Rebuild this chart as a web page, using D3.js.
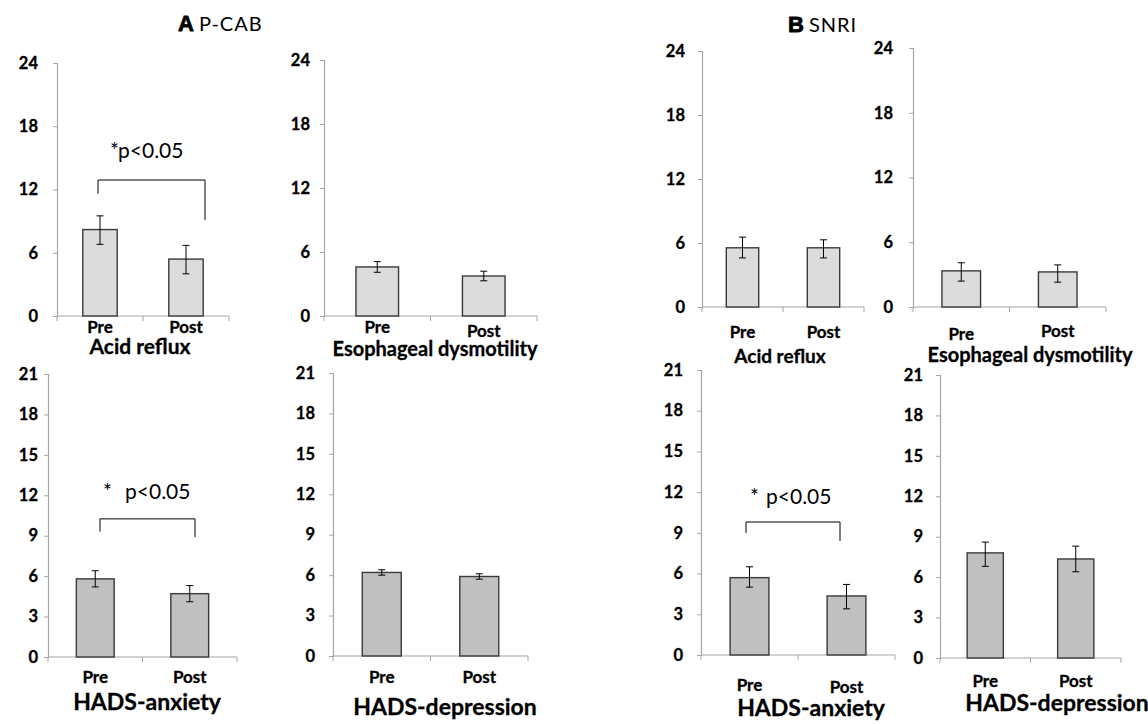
<!DOCTYPE html>
<html>
<head>
<meta charset="utf-8">
<script src="https://cdn.jsdelivr.net/npm/d3@7"></script>
<style>
  body { margin: 0; background: #fff; }
  text { font-family: Lato, "Open Sans", sans-serif; fill: #000; }
  .bold { font-weight: bold; stroke: #000; stroke-width: 0.3px; }
</style>
</head>
<body>
<div class="fig"></div>
<script>
// categories
const groups = ["Pre", "Post"];
const topTicks = [0, 6, 12, 18, 24];
const hadsTicks = [0, 3, 6, 9, 12, 15, 18, 21];

// P-CAB values (mean, upper / lower error end)
const pcabRefluxMean = [8.2, 5.4];
const pcabRefluxHi = [9.5, 6.7];
const pcabRefluxLo = [6.8, 4.0];
const pcabDysMean = [4.6, 3.75];
const pcabDysHi = [5.1, 4.2];
const pcabDysLo = [4.1, 3.3];
const pcabAnxMean = [5.8, 4.7];
const pcabAnxHi = [6.4, 5.3];
const pcabAnxLo = [5.2, 4.1];
const pcabDepMean = [6.2, 5.9];
const pcabDepHi = [6.4, 6.1];
const pcabDepLo = [6.0, 5.7];

// SNRI values
const snriRefluxMean = [5.55, 5.55];
const snriRefluxHi = [6.55, 6.3];
const snriRefluxLo = [4.6, 4.6];
const snriDysMean = [3.35, 3.25];
const snriDysHi = [4.1, 3.9];
const snriDysLo = [2.4, 2.3];
const snriAnxMean = [5.7, 4.35];
const snriAnxHi = [6.5, 5.2];
const snriAnxLo = [5.0, 3.4];
const snriDepMean = [7.8, 7.35];
const snriDepHi = [8.6, 8.3];
const snriDepLo = [6.8, 6.4];

// significance brackets: [bar level, left leg end, right leg end]
const pcabRefluxSig = [12.9, 11.6, 9.1];
const pcabAnxSig = [10.25, 9.3, 8.9];
const snriAnxSig = [9.8, 9.0, 8.4];

const W = 1148, H = 724;
const svg = d3.select(".fig").append("svg").attr("width", W).attr("height", H);

// panel layout (pixels)
const panels = [
  { x0: 57, x1: 229, y0: 63, y1: 316, max: 24, ticks: topTicks, fill: "#dbdcdb",
    mean: pcabRefluxMean, hi: pcabRefluxHi, lo: pcabRefluxLo, pad: 15,
    lab: [17, 17], name: "Acid reflux", nx: 140, ny: 354, nsize: 21,
    sig: pcabRefluxSig, sigX: [98, 205], sigText: ["*", "p<0.05"], sigDx: [110, 118], sigY: 158 },
  { x0: 324, x1: 537, y0: 60, y1: 316, max: 24, ticks: topTicks, fill: "#dbdcdb",
    mean: pcabDysMean, hi: pcabDysHi, lo: pcabDysLo, pad: 10,
    lab: [17, 21], name: "Esophageal dysmotility", nx: 435, ny: 356, nsize: 20 },
  { x0: 702, x1: 864, y0: 51, y1: 307, max: 24, ticks: topTicks, fill: "#dbdcdb",
    mean: snriRefluxMean, hi: snriRefluxHi, lo: snriRefluxLo, pad: 13,
    lab: [31, 31], name: "Acid reflux", nx: 780, ny: 363, nsize: 19 },
  { x0: 913, x1: 1106, y0: 48, y1: 307, max: 24, ticks: topTicks, fill: "#dbdcdb",
    mean: snriDysMean, hi: snriDysHi, lo: snriDysLo, pad: 16,
    lab: [33, 30], name: "Esophageal dysmotility", nx: 1030, ny: 362, nsize: 20 },
  { x0: 48, x1: 237, y0: 374, y1: 657, max: 21, ticks: hadsTicks, fill: "#c0c0c0",
    mean: pcabAnxMean, hi: pcabAnxHi, lo: pcabAnxLo, pad: 6,
    lab: [26, 26], name: "HADS-anxiety", nx: 147, ny: 710, nsize: 23,
    sig: pcabAnxSig, sigX: [100, 195], sigText: ["*", "p<0.05"], sigDx: [103, 125], sigY: 499 },
  { x0: 333, x1: 528, y0: 373, y1: 656, max: 21, ticks: hadsTicks, fill: "#c0c0c0",
    mean: pcabDepMean, hi: pcabDepHi, lo: pcabDepLo, pad: 14,
    lab: [27, 27], name: "HADS-depression", nx: 445, ny: 715, nsize: 23 },
  { x0: 701, x1: 895, y0: 370, y1: 655, max: 21, ticks: hadsTicks, fill: "#c0c0c0",
    mean: snriAnxMean, hi: snriAnxHi, lo: snriAnxLo, pad: 14,
    lab: [36, 38], name: "HADS-anxiety", nx: 811, ny: 716, nsize: 23,
    sig: snriAnxSig, sigX: [746, 840], sigText: ["*", "p<0.05"], sigDx: [750, 766], sigY: 504 },
  { x0: 940, x1: 1121, y0: 375, y1: 658, max: 21, ticks: hadsTicks, fill: "#c0c0c0",
    mean: snriDepMean, hi: snriDepHi, lo: snriDepLo, pad: 13,
    lab: [29, 29], name: "HADS-depression", nx: 1057, ny: 711, nsize: 23 }
];

panels.forEach((p) => {
  const x = d3.scaleBand().domain(groups).range([p.x0, p.x1]).padding(0);
  const y = d3.scaleLinear().domain([0, p.max]).range([p.y1, p.y0]);
  const g = svg.append("g");
  const bw = x.bandwidth() * 0.4;

  // y axis
  const yAxis = g.append("g")
    .attr("transform", `translate(${p.x0},0)`)
    .call(d3.axisLeft(y).tickValues(p.ticks).tickSize(4).tickPadding(p.pad));
  yAxis.select(".domain").attr("stroke", "#a6a6a6").attr("stroke-width", 1.2);
  yAxis.selectAll(".tick line").attr("stroke", "#a6a6a6");
  yAxis.selectAll(".tick text")
    .attr("class", "bold")
    .style("font-family", "Lato, sans-serif")
    .style("font-size", "16.5px")
    .attr("fill", "#000");

  // x axis line with ticks at category boundaries
  g.append("line")
    .attr("x1", p.x0).attr("x2", p.x1)
    .attr("y1", y(0)).attr("y2", y(0))
    .attr("stroke", "#a6a6a6").attr("stroke-width", 1.2);
  const edges = [p.x0, x(groups[1]), p.x1];
  g.selectAll(".xt")
    .data(edges)
    .join("line")
    .attr("x1", (d) => d).attr("x2", (d) => d)
    .attr("y1", y(0)).attr("y2", y(0) + 5)
    .attr("stroke", "#a6a6a6");

  // bars
  g.selectAll(".bar")
    .data(groups)
    .join("rect")
    .attr("x", (d) => x(d) + x.bandwidth() / 2 - bw / 2)
    .attr("y", (d, i) => y(p.mean[i]))
    .attr("width", bw)
    .attr("height", (d, i) => y(0) - y(p.mean[i]))
    .attr("fill", p.fill)
    .attr("stroke", "#3a3a3a")
    .attr("stroke-width", 1.4);

  // error bars
  groups.forEach((d, i) => {
    const cx = x(d) + x.bandwidth() / 2;
    g.append("line")
      .attr("x1", cx).attr("x2", cx)
      .attr("y1", y(p.hi[i])).attr("y2", y(p.lo[i]))
      .attr("stroke", "#000").attr("stroke-width", 1);
    [p.hi[i], p.lo[i]].forEach((v) => {
      g.append("line")
        .attr("x1", cx - 3.5).attr("x2", cx + 3.5)
        .attr("y1", y(v)).attr("y2", y(v))
        .attr("stroke", "#000").attr("stroke-width", 1);
    });
  });

  // category labels
  g.selectAll(".cat")
    .data(groups)
    .join("text")
    .attr("class", "bold")
    .attr("x", (d) => x(d) + x.bandwidth() / 2)
    .attr("y", (d, i) => y(0) + p.lab[i])
    .attr("text-anchor", "middle")
    .style("font-size", "17px")
    .text((d) => d);

  // measure name
  g.append("text")
    .attr("class", "bold")
    .attr("x", p.nx)
    .attr("y", p.ny)
    .attr("text-anchor", "middle")
    .style("font-size", `${p.nsize}px`)
    .text(p.name);

  // significance bracket
  if (p.sig) {
    const [lv, l1, l2] = p.sig;
    g.append("path")
      .attr("d", `M${p.sigX[0]},${y(l1)}V${y(lv)}H${p.sigX[1]}V${y(l2)}`)
      .attr("fill", "none")
      .attr("stroke", "#000")
      .attr("stroke-width", 1);
    g.append("text")
      .attr("x", p.sigDx[0]).attr("y", p.sigY)
      .style("font-size", "21px")
      .text(p.sigText[0]);
    g.append("text")
      .attr("x", p.sigDx[1]).attr("y", p.sigY)
      .style("font-size", "21px")
      .text(p.sigText[1]);
  }
});

// group titles
const titles = [
  { letter: "A", label: "P-CAB", x: 178, y: 31 },
  { letter: "B", label: "SNRI", x: 788, y: 32 }
];
titles.forEach((t) => {
  const tx = svg.append("text").attr("x", t.x).attr("y", t.y);
  tx.append("tspan")
    .style("font-family", "'Liberation Sans', Arial, sans-serif")
    .style("font-weight", "bold")
    .style("font-size", "22px")
    .attr("stroke", "#000").attr("stroke-width", 0.8)
    .text(t.letter);
  tx.append("tspan")
    .attr("dx", 5)
    .style("font-size", "20px")
    .style("letter-spacing", "1px")
    .text(t.label);
});
</script>
</body>
</html>
